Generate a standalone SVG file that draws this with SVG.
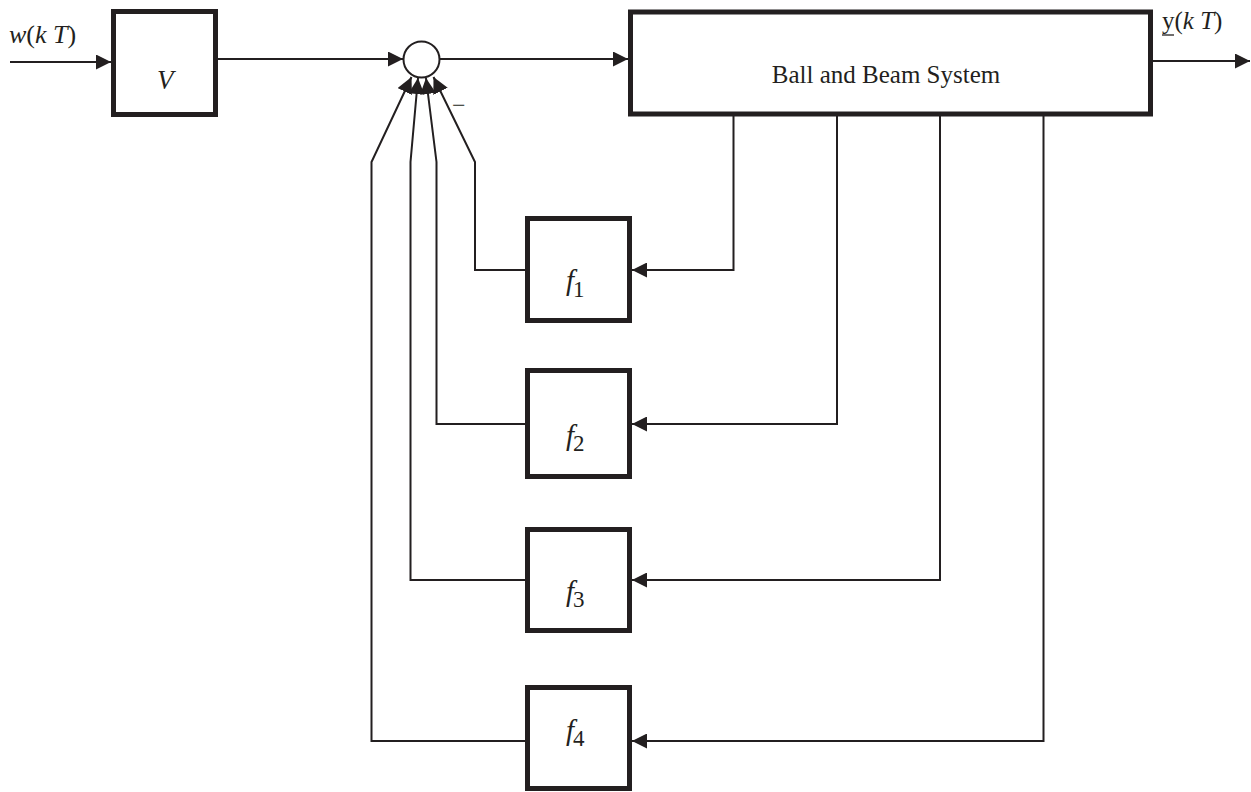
<svg xmlns="http://www.w3.org/2000/svg" width="1251" height="792" viewBox="0 0 1251 792">
<style>
.box{fill:#fff;stroke:#231f20;stroke-width:5}
.ln{fill:none;stroke:#231f20;stroke-width:2}
.ar{fill:none;stroke:#231f20;stroke-width:2;marker-end:url(#ah)}
.t{font-family:"Liberation Serif","Times New Roman",serif;fill:#231f20}
.i{font-style:italic}
</style>
<defs>
<marker id="ah" viewBox="0 0 15 15" refX="15" refY="7.5" markerWidth="15" markerHeight="15" markerUnits="userSpaceOnUse" orient="auto">
<path d="M0,0 L15,7.5 L0,15 Z" fill="#231f20"/>
</marker>
<marker id="ah2" viewBox="0 0 16 16" refX="16" refY="8" markerWidth="16" markerHeight="16" markerUnits="userSpaceOnUse" orient="auto">
<path d="M0,0 L16,8 L0,16 Z" fill="#231f20"/>
</marker>
</defs>
<rect width="1251" height="792" fill="#fff"/>
<g id="connectors">
<path class="ar" d="M10,62 H111"/>
<path class="ar" d="M218,59 H403"/>
<path class="ar" d="M440,59 H628"/>
<path class="ar" d="M1153,61 H1250"/>
<path class="ar" d="M733.5,116 V270 H632"/>
<path class="ar" d="M837,116 V424 H632"/>
<path class="ar" d="M940,116 V580 H632"/>
<path class="ar" d="M1043.5,116 V741 H632"/>
<path class="ln" style="marker-end:url(#ah2)" d="M525,270 H475 V162 L433.5,77"/>
<path class="ln" style="marker-end:url(#ah2)" d="M525,424 H436.5 V162 L426,78"/>
<path class="ln" style="marker-end:url(#ah2)" d="M525,580 H410.5 V162 L418,78"/>
<path class="ln" style="marker-end:url(#ah2)" d="M525,741 H371.5 V162 L411.5,77"/>
</g>
<g id="label-w"><text class="t" x="9" y="43" font-size="26"><tspan class="i">w</tspan>(<tspan class="i">k T</tspan>)</text></g>
<g id="node-V">
<rect class="box" x="113.5" y="11.5" width="102" height="103"/>
<text class="t i" x="157" y="89" font-size="27">V</text>
</g>
<g id="node-sum">
<circle cx="421.5" cy="59.5" r="18" fill="#fff" stroke="#231f20" stroke-width="2"/>
<text class="t" x="452" y="113" font-size="24">−</text>
</g>
<g id="node-bbs">
<rect class="box" x="630.5" y="12" width="520" height="102"/>
<text class="t" x="886" y="83" font-size="25" text-anchor="middle">Ball and Beam System</text>
</g>
<g id="label-y">
<text class="t" x="1162" y="29" font-size="25">y(<tspan class="i">k T</tspan>)</text>
<line x1="1162" y1="35" x2="1174" y2="35" stroke="#231f20" stroke-width="1.3"/>
</g>
<g id="node-f1">
<rect class="box" x="527.5" y="218.5" width="102" height="102"/>
<text class="t i" x="566" y="290" font-size="29">f</text><text class="t" x="573" y="297" font-size="23">1</text>
</g>
<g id="node-f2">
<rect class="box" x="527.5" y="370.5" width="102" height="106"/>
<text class="t i" x="566" y="445" font-size="29">f</text><text class="t" x="573" y="451" font-size="23">2</text>
</g>
<g id="node-f3">
<rect class="box" x="527.5" y="529.5" width="102" height="101"/>
<text class="t i" x="566" y="601" font-size="29">f</text><text class="t" x="573" y="607" font-size="23">3</text>
</g>
<g id="node-f4">
<rect class="box" x="527.5" y="687.5" width="102" height="101"/>
<text class="t i" x="566" y="740" font-size="29">f</text><text class="t" x="573" y="746" font-size="23">4</text>
</g>
</svg>
